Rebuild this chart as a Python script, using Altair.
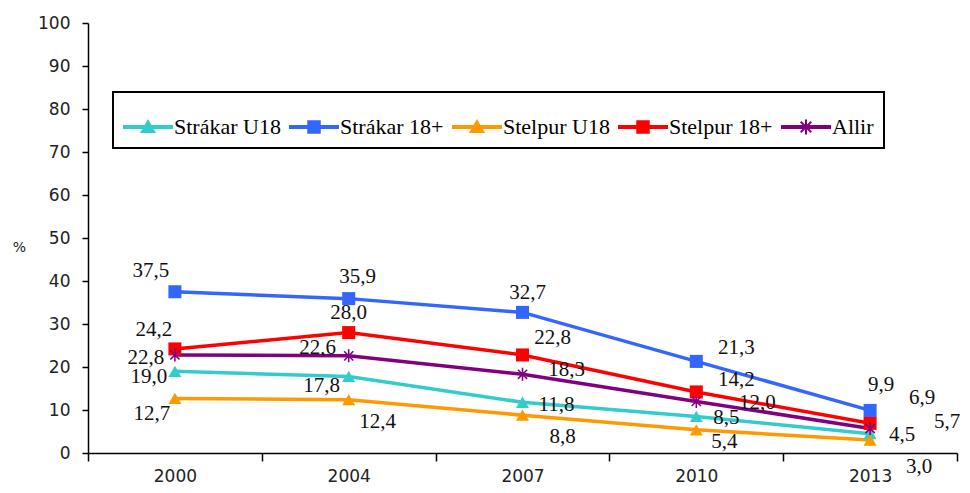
import math
import altair as alt
import pandas as pd

years = ["2000", "2004", "2007", "2010", "2013"]
series = ["Strákar U18", "Strákar 18+", "Stelpur U18", "Stelpur 18+", "Allir"]
colors = ["#33CCCC", "#3366FF", "#FF9900", "#FF0000", "#800080"]

strakar_u18 = [19.0, 17.8, 11.8, 8.5, 4.5]
strakar_18 = [37.5, 35.9, 32.7, 21.3, 9.9]
stelpur_u18 = [12.7, 12.4, 8.8, 5.4, 3.0]
stelpur_18 = [24.2, 28.0, 22.8, 14.2, 6.9]
allir = [22.8, 22.6, 18.3, 12.0, 5.7]
values = [strakar_u18, strakar_18, stelpur_u18, stelpur_18, allir]

# label offsets (pixels) relative to each point, per series, per year
label_dx = [
    [-26, -27, 34, 30, 32],
    [-24, 9, 5, 40, 11],
    [-23, 29, 40, 28, 49],
    [-21, 0, 30, 40, 52],
    [-29, -31, 44, 61, 77],
]
label_dy = [
    [6, 10, 3, 2, 1],
    [-21, -22, -19, -13, -25],
    [16, 22, 22, 12, 27],
    [-19, -20, -17, -12, -25],
    [3, -8, -4, 2, -6],
]

rows = []
for s, vals, dxs, dys in zip(series, values, label_dx, label_dy):
    for y, v, dx, dy in zip(years, vals, dxs, dys):
        rows.append({"year": y, "series": s, "value": v,
                     "label": f"{v:.1f}".replace(".", ","), "dx": dx, "dy": dy})
df = pd.DataFrame(rows)


def bar(angle, half_len, half_thk):
    a = math.radians(angle)
    c, s = math.cos(a), math.sin(a)
    pts = [(-half_len, -half_thk), (half_len, -half_thk),
           (half_len, half_thk), (-half_len, half_thk)]
    out = [(px * c - py * s, px * s + py * c) for px, py in pts]
    return "M" + "L".join(f"{x:.3f},{y:.3f}" for x, y in out) + "Z"


def asterisk(half_len, half_thk):
    return " ".join(bar(a, half_len, half_thk) for a in (45, 135, 90))


shapes = ["triangle-up", "square", "triangle-up", "square", asterisk(1.0, 0.12)]

line_p = "M-1,-0.08H1V0.08H-1Z"
leg_shapes = [
    line_p + " M0,-0.32L0.32,0.24L-0.32,0.24Z",
    line_p + " M-0.27,-0.27H0.27V0.27H-0.27Z",
    line_p + " M0,-0.32L0.32,0.24L-0.32,0.24Z",
    line_p + " M-0.27,-0.27H0.27V0.27H-0.27Z",
    line_p + " " + asterisk(0.3, 0.04),
]

serif = "Liberation Serif"
sans = "DejaVu Sans"

x_enc = alt.X("year:O", bandPosition=0.5,
              scale=alt.Scale(type="band", paddingInner=0, paddingOuter=0),
              axis=alt.Axis(tickBand="extent", tickSize=8, labelAngle=0,
                            labelPadding=7, title=None, labelFont=sans,
                            labelFontSize=17, labelColor="#222",
                            domainColor="#000", tickColor="#000",
                            domainWidth=1.5, tickWidth=1.5))
y_enc = alt.Y("value:Q", scale=alt.Scale(domain=[0, 100]),
              axis=alt.Axis(values=list(range(0, 101, 10)), tickSize=6,
                            labelFont=sans, labelFontSize=17, labelColor="#222",
                            labelPadding=12, grid=False, domainColor="#000",
                            tickColor="#000", domainWidth=1.5, tickWidth=1.5,
                            title="%", titleAngle=0, titleX=-69, titleY=224,
                            titleAlign="center", titleBaseline="middle",
                            titleFont=sans, titleFontSize=14,
                            titleFontWeight="normal", titleColor="#222"))

color_scale = alt.Scale(domain=series, range=colors)

legend = alt.Legend(
    title=None, orient="none", legendX=25, legendY=69, direction="horizontal",
    columns=5, symbolSize=2500, labelFont=serif, labelFontSize=22,
    labelColor="#000", labelOffset=1, columnPadding=8, padding=10,
    strokeColor="#000", symbolOpacity=1, symbolStrokeWidth=0,
)

base = alt.Chart(df)

lines = base.mark_line(strokeWidth=3.5).encode(
    x=x_enc, y=y_enc,
    color=alt.Color("series:N", scale=color_scale, legend=None),
    detail="series:N",
)

points = base.mark_point(filled=True, size=170, opacity=1).encode(
    x=x_enc, y=y_enc,
    color=alt.Color("series:N", scale=color_scale, legend=None),
    shape=alt.Shape("series:N", scale=alt.Scale(domain=series, range=shapes),
                    legend=None),
)

legend_layer = base.transform_filter("false").mark_point(filled=True, opacity=1).encode(
    x=x_enc, y=y_enc,
    color=alt.Color("series:N", scale=color_scale, legend=legend),
    shape=alt.Shape("series:N", scale=alt.Scale(domain=series, range=leg_shapes),
                    legend=legend),
)

texts = base.mark_text(font=serif, fontSize=21, color="#111",
                       align="center", baseline="middle",
                       dx=alt.expr("datum.dx"), dy=alt.expr("datum.dy")).encode(
    x=x_enc, y=y_enc,
    text="label:N",
)

chart = alt.layer(lines, points, texts, legend_layer).resolve_scale(
    color="independent", shape="independent"
).properties(
    width=869, height=430,
    autosize=alt.AutoSizeParams(type="none"),
    padding={"left": 80, "top": 15, "right": 5, "bottom": 32},
).configure_view(strokeWidth=0).configure_legend(
    strokeWidth=2, labelFont=serif, labelFontSize=22, labelColor="#000"
)

chart.save("out.html", embed_options={"renderer": "svg", "actions": False})
